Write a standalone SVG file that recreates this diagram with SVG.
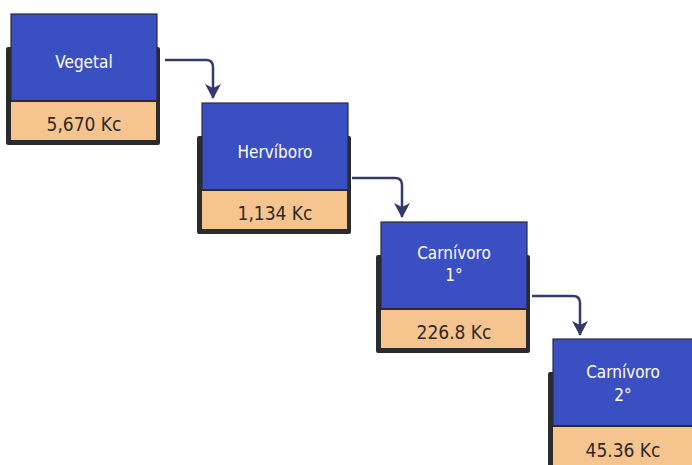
<svg xmlns="http://www.w3.org/2000/svg" width="692" height="465" viewBox="0 0 692 465">
<style>
.back{fill:#2b2b2e;}
.blue{fill:#3a4fc2;stroke:#2b2b3a;stroke-width:1.2;}
.org{fill:#f6c48e;stroke:#2b2b2e;stroke-width:2;}
.t{font-family:"Liberation Sans Narrow","DejaVu Sans Condensed","Liberation Sans",sans-serif;text-anchor:middle;dominant-baseline:central;}
.w{fill:#ffffff;font-size:17px;}
.n{fill:#2a2a2a;font-size:19px;}
.c{fill:none;stroke:#35396b;stroke-width:2.5;marker-end:url(#ah);}
</style>
<defs>
<marker id="ah" markerUnits="userSpaceOnUse" markerWidth="16" markerHeight="16" viewBox="0 0 16 16" refX="8" refY="14" orient="0">
<path d="M0,0 L8,4 L16,0 L8,15 Z" fill="#35396b"/>
</marker>
</defs>
<rect width="692" height="465" fill="#ffffff"/>
<g id="n1" transform="translate(11,14)">
<rect class="back" x="-5" y="33" width="154" height="98" rx="2"/>
<rect class="blue" x="0" y="0" width="146" height="87"/>
<rect class="org" x="-1" y="87" width="147" height="40"/>
<text class="t w" x="73" y="48">Vegetal</text>
<text class="t n" x="73" y="110">5,670 Kc</text>
</g>
<g id="n2" transform="translate(202,103)">
<rect class="back" x="-5" y="33" width="154" height="98" rx="2"/>
<rect class="blue" x="0" y="0" width="146" height="87"/>
<rect class="org" x="-1" y="87" width="147" height="40"/>
<text class="t w" x="73" y="49">Hervíboro</text>
<text class="t n" x="73" y="110">1,134 Kc</text>
</g>
<g id="n3" transform="translate(381,222)">
<rect class="back" x="-5" y="33" width="154" height="98" rx="2"/>
<rect class="blue" x="0" y="0" width="146" height="87"/>
<rect class="org" x="-1" y="87" width="147" height="40"/>
<text class="t w" x="73" y="31">Carnívoro</text>
<text class="t w" x="73" y="53">1°</text>
<text class="t n" x="73" y="110">226.8 Kc</text>
</g>
<g id="n4" transform="translate(553,339)">
<rect class="back" x="-5" y="33" width="154" height="98" rx="2"/>
<rect class="blue" x="0" y="0" width="146" height="87"/>
<rect class="org" x="-1" y="87" width="147" height="40"/>
<text class="t w" x="70" y="33">Carnívoro</text>
<text class="t w" x="70" y="56">2°</text>
<text class="t n" x="70" y="111">45.36 Kc</text>
</g>
<g id="connectors">
<path class="c" d="M165,60 H206 Q213,60 213,67 V98"/>
<path class="c" d="M352,178 H395 Q402,178 402,185 V217"/>
<path class="c" d="M532,296 H573 Q580,296 580,303 V335"/>
</g>
</svg>
